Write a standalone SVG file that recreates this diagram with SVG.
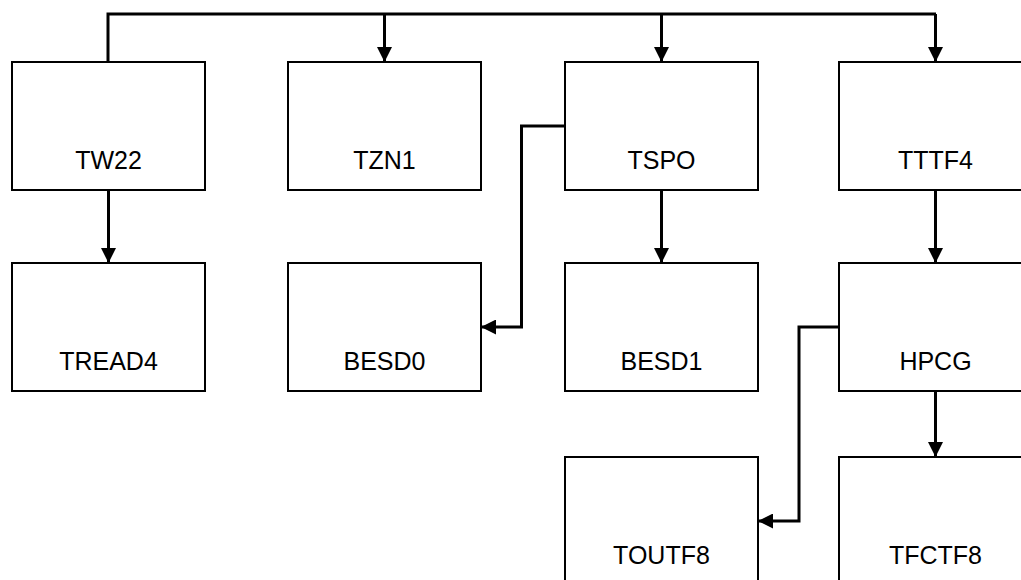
<svg xmlns="http://www.w3.org/2000/svg" width="1021" height="580" viewBox="0 0 1021 580">
<style>
.box{fill:#fff;stroke:#000;stroke-width:2}
.lbl{font-family:"Liberation Sans",Arial,sans-serif;font-size:25px;fill:#000;text-anchor:middle}
.con{fill:none;stroke:#000;stroke-width:3}
</style>
<defs>
<marker id="ah" viewBox="0 0 10 10" refX="10" refY="5" markerWidth="15" markerHeight="15" markerUnits="userSpaceOnUse" orient="auto">
<path d="M0,0 L10,5 L0,10 Z" fill="#000"/>
</marker>
</defs>
<rect width="1021" height="580" fill="#fff"/>
<g id="TW22"><rect class="box" x="12" y="62" width="193" height="128"/><text class="lbl" x="108.5" y="169">TW22</text></g>
<g id="TZN1"><rect class="box" x="288" y="62" width="193" height="128"/><text class="lbl" x="384.5" y="169">TZN1</text></g>
<g id="TSPO"><rect class="box" x="565" y="62" width="193" height="128"/><text class="lbl" x="661.5" y="169">TSPO</text></g>
<g id="TTTF4"><rect class="box" x="839" y="62" width="193" height="128"/><text class="lbl" x="935.5" y="169">TTTF4</text></g>
<g id="TREAD4"><rect class="box" x="12" y="263" width="193" height="128"/><text class="lbl" x="108.5" y="370">TREAD4</text></g>
<g id="BESD0"><rect class="box" x="288" y="263" width="193" height="128"/><text class="lbl" x="384.5" y="370">BESD0</text></g>
<g id="BESD1"><rect class="box" x="565" y="263" width="193" height="128"/><text class="lbl" x="661.5" y="370">BESD1</text></g>
<g id="HPCG"><rect class="box" x="839" y="263" width="193" height="128"/><text class="lbl" x="935.5" y="370">HPCG</text></g>
<g id="TOUTF8"><rect class="box" x="565" y="457" width="193" height="140"/><text class="lbl" x="661.5" y="564">TOUTF8</text></g>
<g id="TFCTF8"><rect class="box" x="839" y="457" width="193" height="140"/><text class="lbl" x="935.5" y="564">TFCTF8</text></g>
<g id="connectors">
<path class="con" d="M108,62 V14 H936"/>
<path class="con" d="M384.5,14 V62" marker-end="url(#ah)"/>
<path class="con" d="M661.5,14 V62" marker-end="url(#ah)"/>
<path class="con" d="M935.5,14 V62" marker-end="url(#ah)"/>
<path class="con" d="M108.5,190 V263" marker-end="url(#ah)"/>
<path class="con" d="M661.5,190 V263" marker-end="url(#ah)"/>
<path class="con" d="M935.5,190 V263" marker-end="url(#ah)"/>
<path class="con" d="M935.5,391 V457" marker-end="url(#ah)"/>
<path class="con" d="M565,126 H521.5 V327 H481" marker-end="url(#ah)"/>
<path class="con" d="M839,327 H799 V521 H758" marker-end="url(#ah)"/>
</g>
</svg>
